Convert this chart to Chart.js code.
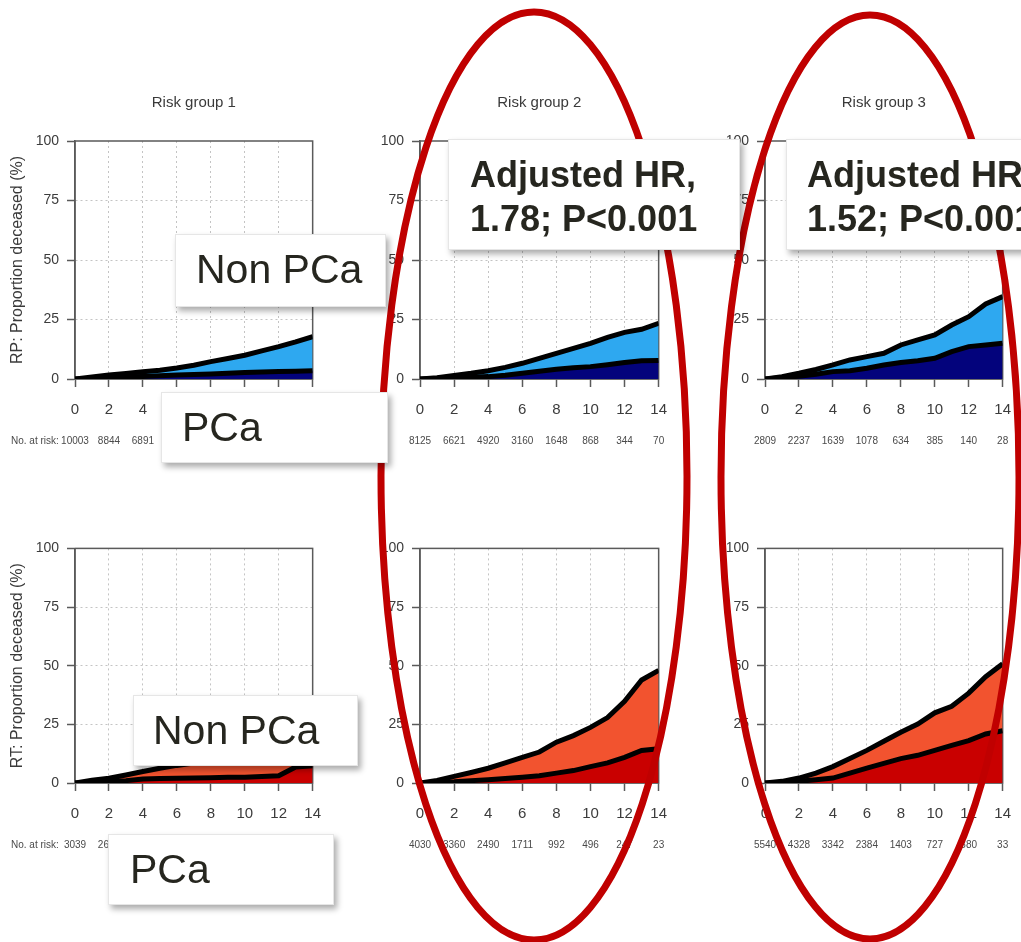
<!DOCTYPE html>
<html>
<head>
<meta charset="utf-8">
<script src="https://cdn.jsdelivr.net/npm/chart.js@4/dist/chart.umd.min.js"></script>
<style>
  html, body { margin: 0; padding: 0; background: #fff; }
  body { width: 1021px; height: 942px; overflow: hidden; position: relative;
         font-family: 'Liberation Sans', Arial, sans-serif; }
  canvas.panel { position: absolute; z-index: 1; }
  svg#rings { position: absolute; left: 0; top: 0; z-index: 2; }
  .callout { position: absolute; z-index: 3; background: #fff; color: #26261f;
             box-sizing: border-box; white-space: nowrap; border: 1px solid #e6e6e6;
             box-shadow: 3px 4px 6px rgba(0,0,0,0.33); }
  .callout.plain { font-size: 41px; line-height: 69px; }
  .callout.bold { font-weight: bold; font-size: 36px; line-height: 44px; padding-top: 13px; }
</style>
</head>
<body>

<svg id="rings" width="1021" height="942">
  <ellipse cx="534" cy="476" rx="153" ry="464" fill="none" stroke="#c00000" stroke-width="7"/>
  <ellipse cx="870" cy="477" rx="149" ry="462" fill="none" stroke="#c00000" stroke-width="7"/>
</svg>

<div class="callout plain" style="left:175px;top:234px;width:211px;height:73px;padding-left:20px;">Non PCa</div>
<div class="callout plain" style="left:161px;top:392px;width:227px;height:71px;padding-left:20px;">PCa</div>
<div class="callout plain" style="left:133px;top:695px;width:225px;height:71px;padding-left:19px;">Non PCa</div>
<div class="callout plain" style="left:108px;top:834px;width:226px;height:71px;padding-left:21px;">PCa</div>
<div class="callout bold" style="left:448px;top:139px;width:292px;height:111px;padding-left:21px;">Adjusted HR,<br>1.78; P&lt;0.001</div>
<div class="callout bold" style="left:786px;top:139px;width:300px;height:111px;padding-left:20px;">Adjusted HR,<br>1.52; P&lt;0.001</div>

<script>
// Follow-up time (years) and the years where the number at risk is reported
const years = [0, 1, 2, 3, 4, 5, 6, 7, 8, 9, 10, 11, 12, 13, 14];
const atRiskYears = [0, 2, 4, 6, 8, 10, 12, 14];
const yTicks = [0, 25, 50, 75, 100];

// Cumulative incidence (%) — prostate cancer death (bottom band) and all deaths (top curve)
// Radical prostatectomy (RP)
const rp1PCa = [0, 0.3, 0.6, 0.9, 1.1, 1.4, 1.7, 1.9, 2.1, 2.4, 2.7, 2.9, 3.1, 3.3, 3.5];
const rp1All = [0, 0.8, 1.7, 2.3, 3.0, 3.7, 4.6, 5.8, 7.3, 8.6, 10.0, 11.8, 13.6, 15.6, 17.8];
const rp2PCa = [0, 0.2, 0.4, 0.7, 1.0, 1.6, 2.4, 3.3, 4.1, 4.7, 5.2, 6.0, 6.9, 7.7, 7.8];
const rp2All = [0, 0.5, 1.5, 2.4, 3.5, 4.9, 6.6, 8.7, 10.8, 12.9, 15.0, 17.5, 19.6, 20.9, 23.4];
const rp3PCa = [0, 0.5, 1.2, 2.0, 3.1, 3.5, 4.5, 5.9, 6.9, 7.7, 8.7, 11.5, 13.6, 14.3, 15.0];
const rp3All = [0, 1.0, 2.4, 4.0, 5.9, 8.0, 9.4, 10.8, 14.3, 16.4, 18.5, 22.7, 26.2, 31.5, 34.6];
// Radiotherapy (RT)
const rt1PCa = [0, 0.3, 0.6, 1.0, 1.7, 1.9, 2.0, 2.1, 2.2, 2.4, 2.5, 2.8, 3.1, 6.8, 7.4];
const rt1All = [0, 1.2, 2.0, 3.4, 4.9, 6.3, 7.5, 8.5, 9.3, 10.0, 10.6, 11.2, 11.8, 13.5, 15.0];
const rt2PCa = [0, 0.2, 0.5, 1.0, 1.4, 1.9, 2.5, 3.1, 4.2, 5.3, 7.0, 8.6, 10.9, 13.9, 14.6];
const rt2All = [0, 1.1, 2.8, 4.5, 6.3, 8.6, 10.9, 13.2, 17.4, 20.2, 23.7, 27.9, 34.8, 43.9, 48.0];
const rt3PCa = [0, 0.2, 0.7, 1.4, 2.1, 4.2, 6.3, 8.4, 10.4, 11.8, 13.9, 16.0, 18.1, 20.9, 22.3];
const rt3All = [0, 0.7, 2.1, 4.2, 7.0, 10.4, 13.9, 17.8, 21.6, 25.1, 29.9, 32.7, 38.3, 45.3, 50.8];

// Numbers at risk (null where no figure is printed)
const rp1AtRisk = ['10003', '8844', '6891', null, null, null, null, null];
const rp2AtRisk = ['8125', '6621', '4920', '3160', '1648', '868', '344', '70'];
const rp3AtRisk = ['2809', '2237', '1639', '1078', '634', '385', '140', '28'];
const rt1AtRisk = ['3039', '2661', null, null, null, null, null, null];
const rt2AtRisk = ['4030', '3360', '2490', '1711', '992', '496', '247', '23'];
const rt3AtRisk = ['5540', '4328', '3342', '2384', '1403', '727', '380', '33'];

const titles = ['Risk group 1', 'Risk group 2', 'Risk group 3'];
const rowTitles = ['RP: Proportion deceased (%)', 'RT: Proportion deceased (%)'];

const rpColors = { pca: '#03037c', other: '#2ea8f0' };
const rtColors = { pca: '#c90000', other: '#f2532f' };

// Plot-area geometry of the 2 x 3 grid
const colLeft = [75, 420, 765];
const colRight = [313, 659, 1003];
const rowTop = [141, 544];
const rowBottom = [379, 783];
const axisSpace = 75, rightPad = 16, rightExtra = 6, footSpace = 74;

const panels = [
  { row: 0, col: 0, pca: rp1PCa, all: rp1All, atRisk: rp1AtRisk, colors: rpColors },
  { row: 0, col: 1, pca: rp2PCa, all: rp2All, atRisk: rp2AtRisk, colors: rpColors },
  { row: 0, col: 2, pca: rp3PCa, all: rp3All, atRisk: rp3AtRisk, colors: rpColors },
  { row: 1, col: 0, pca: rt1PCa, all: rt1All, atRisk: rt1AtRisk, colors: rtColors },
  { row: 1, col: 1, pca: rt2PCa, all: rt2All, atRisk: rt2AtRisk, colors: rtColors },
  { row: 1, col: 2, pca: rt3PCa, all: rt3All, atRisk: rt3AtRisk, colors: rtColors },
];

const tickColor = '#3c3c3c';
const frameColor = '#5a5a5a';

function makePanel(p) {
  const headSpace = p.row === 0 ? 56 : 12;
  const left = colLeft[p.col] - axisSpace;
  const top = rowTop[p.row] - headSpace;
  const width = colRight[p.col] - colLeft[p.col] + axisSpace + rightPad + rightExtra;
  const height = headSpace + rowBottom[p.row] - rowTop[p.row] + footSpace;

  const canvas = document.createElement('canvas');
  canvas.className = 'panel';
  canvas.width = width;
  canvas.height = height;
  canvas.style.left = left + 'px';
  canvas.style.top = top + 'px';
  canvas.style.width = width + 'px';
  canvas.style.height = height + 'px';
  document.body.appendChild(canvas);

  const showTitle = p.row === 0;
  const showLead = p.col === 0;

  // closed box around the plotting region
  const framePlugin = {
    id: 'frame',
    beforeDatasetsDraw(chart) {
      const a = chart.chartArea, ctx = chart.ctx;
      ctx.save();
      ctx.strokeStyle = frameColor;
      ctx.lineWidth = 1.5;
      ctx.strokeRect(a.left, a.top, a.right - a.left, a.bottom - a.top);
      ctx.restore();
    }
  };

  // "No. at risk" row under the time axis
  const atRiskPlugin = {
    id: 'atRiskRow',
    afterDraw(chart) {
      const ctx = chart.ctx, xs = chart.scales.x;
      const y = chart.chartArea.bottom + 62;
      ctx.save();
      ctx.font = "10px 'Liberation Sans Narrow', 'Liberation Sans', Arial, sans-serif";
      ctx.fillStyle = '#4a4a4a';
      ctx.textBaseline = 'middle';
      ctx.textAlign = 'center';
      atRiskYears.forEach((t, i) => {
        if (p.atRisk[i]) ctx.fillText(p.atRisk[i], xs.getPixelForValue(t), y);
      });
      if (showLead) {
        ctx.textAlign = 'left';
        ctx.fillText('No. at risk:', 11, y);
      }
      ctx.restore();
    }
  };

  const gridColor = (max) => (c) =>
    (c.tick && (c.tick.value === 0 || c.tick.value === max)) ? 'rgba(0,0,0,0)' : '#c4c4c4';

  new Chart(canvas, {
    type: 'line',
    data: {
      datasets: [
        {
          label: 'PCa',
          data: years.map((x, i) => ({ x, y: p.pca[i] })),
          borderColor: '#000',
          borderWidth: 5,
          backgroundColor: p.colors.pca,
          fill: 'origin',
          pointRadius: 0,
          tension: 0
        },
        {
          label: 'Non PCa',
          data: years.map((x, i) => ({ x, y: p.all[i] })),
          borderColor: '#000',
          borderWidth: 5,
          backgroundColor: p.colors.other,
          fill: '-1',
          pointRadius: 0,
          tension: 0
        }
      ]
    },
    options: {
      responsive: false,
      animation: false,
      devicePixelRatio: 1,
      layout: { padding: { left: 0, right: rightPad, top: showTitle ? 0 : headSpace, bottom: 0 } },
      plugins: {
        legend: { display: false },
        tooltip: { enabled: false },
        title: {
          display: showTitle,
          text: titles[p.col],
          fullSize: false,
          color: '#3a3a3a',
          font: { family: "'Liberation Sans', Arial, sans-serif", size: 15, weight: 'normal', lineHeight: 1.2 },
          padding: { top: 9, bottom: headSpace - 9 - 18 }
        }
      },
      scales: {
        x: {
          type: 'linear',
          min: 0, max: 14,
          afterFit: (s) => { s.height = footSpace; },
          ticks: {
            stepSize: 2,
            color: tickColor,
            padding: 14,
            maxRotation: 0,
            font: { family: "'Liberation Sans', Arial, sans-serif", size: 15 }
          },
          grid: {
            color: gridColor(14),
            lineWidth: 1,
            drawTicks: true,
            tickLength: 8,
            tickColor: frameColor,
            tickWidth: 1.5
          },
          border: { display: true, color: frameColor, width: 1.5, dash: [2, 3] }
        },
        y: {
          min: 0, max: 100,
          afterFit: (s) => { s.width = axisSpace; },
          afterBuildTicks: (s) => { s.ticks = yTicks.map(v => ({ value: v })); },
          ticks: {
            color: tickColor,
            padding: 8,
            font: { family: "'Liberation Sans', Arial, sans-serif", size: 14 }
          },
          grid: {
            color: gridColor(100),
            lineWidth: 1,
            tickLength: 8,
            tickColor: frameColor,
            tickWidth: 1.5
          },
          border: { display: true, color: frameColor, width: 1.5, dash: [2, 3] },
          title: {
            display: p.col === 0,
            text: rowTitles[p.row],
            color: '#3a3a3a',
            font: { family: "'Liberation Sans', Arial, sans-serif", size: 16, lineHeight: 1.2 },
            padding: { top: 8, bottom: 0 }
          }
        }
      }
    },
    plugins: [framePlugin, atRiskPlugin]
  });
}

panels.forEach(makePanel);
</script>
</body>
</html>
